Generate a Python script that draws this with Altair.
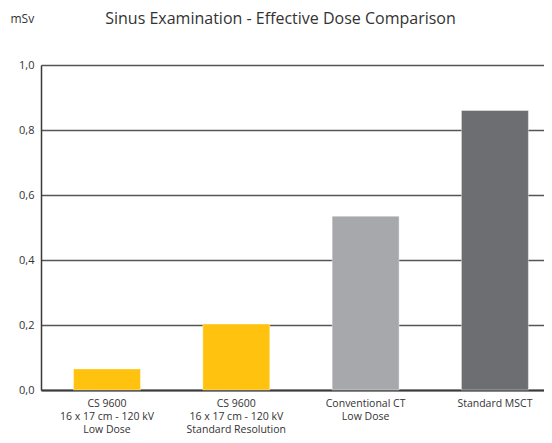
import altair as alt
import pandas as pd

categories = [
    "CS 9600|16 x 17 cm - 120 kV|Low Dose",
    "CS 9600|16 x 17 cm - 120 kV|Standard Resolution",
    "Conventional CT|Low Dose",
    "Standard MSCT",
]
doses = [0.065, 0.203, 0.535, 0.86]
colors = ["#FFC20E", "#FFC20E", "#A7A8AB", "#6D6E71"]
y_ticks = [0.0, 0.2, 0.4, 0.6, 0.8, 1.0]

df = pd.DataFrame({"cat": categories, "dose": doses, "key": [str(i) for i in range(len(categories))]})

FONT = "Open Sans"

chart = (
    alt.Chart(df)
    .mark_bar(stroke="#ffffff", strokeOpacity=0.4, strokeWidth=1)
    .encode(
        x=alt.X(
            "cat:N",
            sort=None,
            scale=alt.Scale(paddingInner=0.482, paddingOuter=0.186, align=0.676),
            axis=alt.Axis(
                title=None,
                labelAngle=0,
                labelExpr="split(datum.label, '|')",
                labelFontSize=10.5,
                labelLineHeight=13,
                labelColor="#333333",
                labelPadding=8,
                ticks=False,
                domainColor="#3a3a3a",
                domainWidth=2,
                grid=False,
                labelFont=FONT,
            ),
        ),
        y=alt.Y(
            "dose:Q",
            scale=alt.Scale(domain=[0, 1], nice=False),
            axis=alt.Axis(
                title="mSv",
                titleAngle=0,
                titleX=-31,
                titleY=-47,
                titleAlign="left",
                titleBaseline="middle",
                titleFontSize=12,
                titleFontWeight="normal",
                titleColor="#333333",
                titleFont=FONT,
                values=y_ticks,
                labelExpr="replace(format(datum.value, '.1f'), '.', ',')",
                labelFontSize=11,
                labelColor="#333333",
                labelPadding=7,
                labelFont=FONT,
                ticks=False,
                domainColor="#3a3a3a",
                domainWidth=1.5,
                gridColor="#555555",
                gridWidth=1.5,
            ),
        ),
        color=alt.Color(
            "key:N",
            scale=alt.Scale(domain=[str(i) for i in range(len(categories))], range=colors),
            legend=None,
        ),
    )
    .properties(
        width=503,
        height=325,
        padding={"left": 2, "top": 3, "right": 0, "bottom": 0},
        title=alt.TitleParams(
            "Sinus Examination - Effective Dose Comparison",
            anchor="middle",
            dx=-12,
            fontSize=16,
            fontWeight="normal",
            font=FONT,
            color="#333333",
            offset=-15,
        ),
    )
    .configure_view(stroke=None)
)

chart.save("out.html", embed_options={"renderer": "svg", "actions": False})
